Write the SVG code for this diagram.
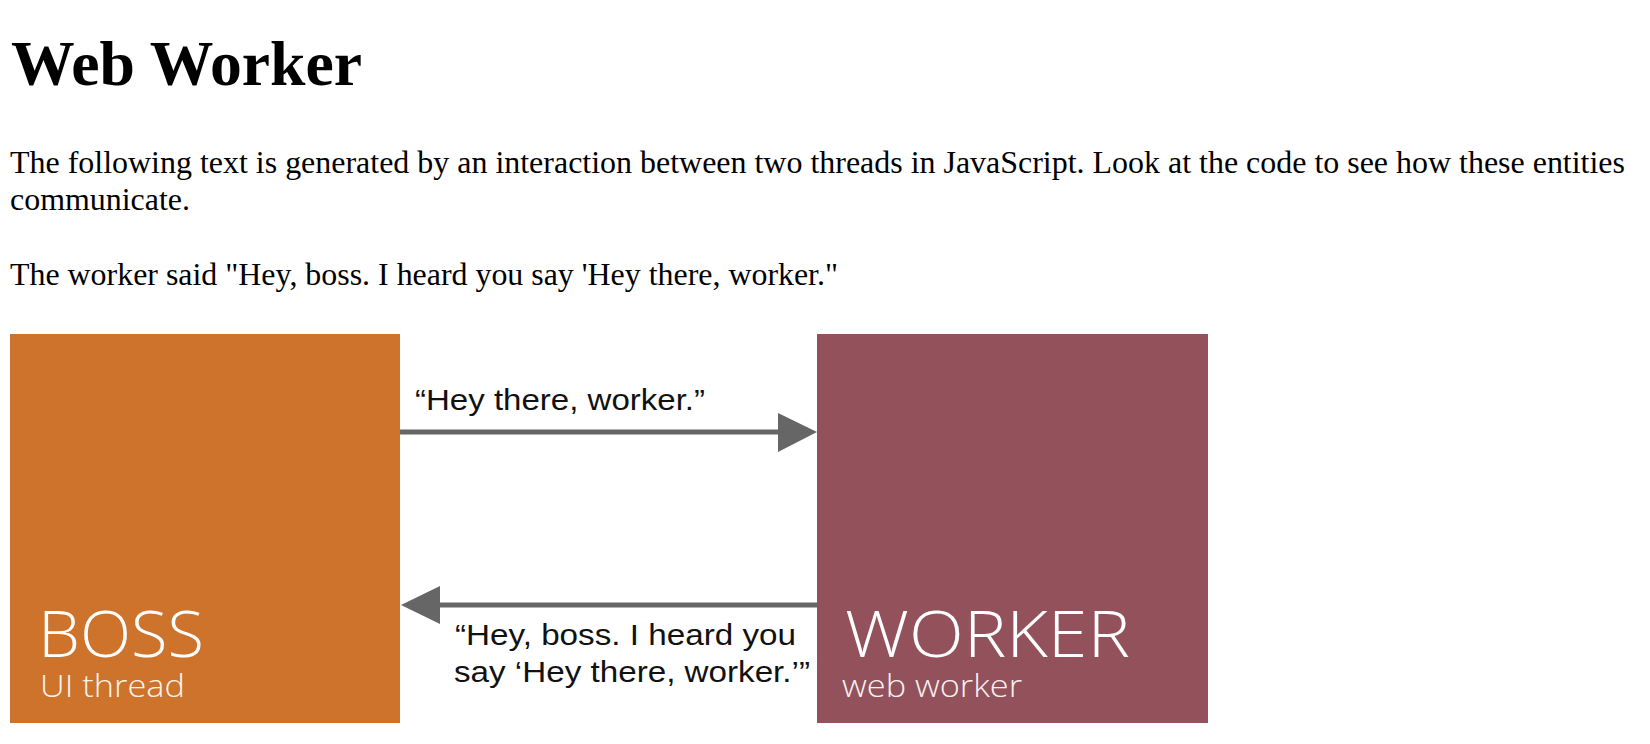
<svg xmlns="http://www.w3.org/2000/svg" width="1650" height="744" viewBox="0 0 1650 744">
<style>
.h1{font-family:"Liberation Serif","Times New Roman",serif;font-weight:bold;font-size:64px;fill:#000}
.p{font-family:"Liberation Serif","Times New Roman",serif;font-size:31px;fill:#000}
.big{font-family:"Open Sans","Noto Sans",sans-serif;font-weight:300;font-size:64px;fill:#fff}
.sub{font-family:"Open Sans","Noto Sans",sans-serif;font-weight:300;font-size:31px;fill:#fff;opacity:0.92}
.lbl{font-family:"Liberation Sans",Arial,sans-serif;font-size:30px;fill:#111}
.conn{stroke:#666;stroke-width:5;fill:none}
.head{fill:#666}
</style>
<rect width="1650" height="744" fill="#fff"/>
<text class="h1" x="11" y="85" textLength="351" lengthAdjust="spacingAndGlyphs">Web Worker</text>
<text class="p" x="10" y="173" textLength="1615" lengthAdjust="spacingAndGlyphs">The following text is generated by an interaction between two threads in JavaScript. Look at the code to see how these entities</text>
<text class="p" x="10" y="210" textLength="180" lengthAdjust="spacingAndGlyphs">communicate.</text>
<text class="p" x="10" y="285" textLength="828" lengthAdjust="spacingAndGlyphs">The worker said "Hey, boss. I heard you say 'Hey there, worker."</text>
<g id="boss">
<rect x="10" y="334" width="390" height="389" fill="#CD732B"/>
<text class="big" x="38" y="657" textLength="166" lengthAdjust="spacingAndGlyphs">BOSS</text>
<text class="sub" x="40" y="697" textLength="145" lengthAdjust="spacingAndGlyphs">UI thread</text>
</g>
<g id="worker">
<rect x="817" y="334" width="391" height="389" fill="#93525B"/>
<text class="big" x="845" y="657" textLength="285" lengthAdjust="spacingAndGlyphs">WORKER</text>
<text class="sub" x="842" y="697" textLength="180" lengthAdjust="spacingAndGlyphs">web worker</text>
</g>
<g id="connectors">
<line class="conn" x1="400" y1="432" x2="780" y2="432"/>
<polygon class="head" points="778,413 817,432 778,452"/>
<text class="lbl" x="415" y="410" textLength="290" lengthAdjust="spacingAndGlyphs">“Hey there, worker.”</text>
<line class="conn" x1="438" y1="605" x2="817" y2="605"/>
<polygon class="head" points="440,586 401,605 440,624"/>
<text class="lbl" x="455" y="645" textLength="341" lengthAdjust="spacingAndGlyphs">“Hey, boss. I heard you</text>
<text class="lbl" x="454" y="682" textLength="356" lengthAdjust="spacingAndGlyphs">say ‘Hey there, worker.’”</text>
</g>
</svg>
